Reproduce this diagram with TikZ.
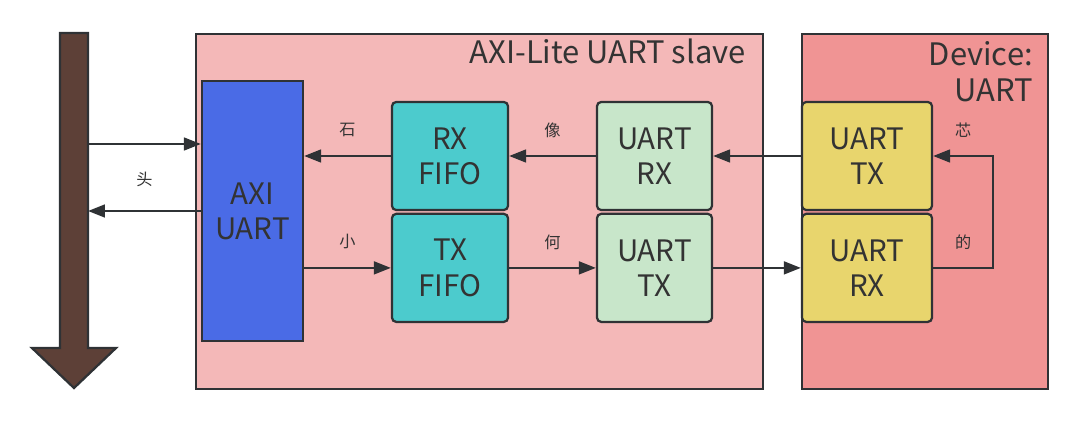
\documentclass[tikz,border=0pt]{standalone}
\usepackage{fontspec}
\setmainfont{Noto Sans CJK SC}
\usetikzlibrary{positioning,arrows.meta}

\definecolor{busbrown}{HTML}{5D4037}
\definecolor{slavepink}{HTML}{F4B8B8}
\definecolor{devred}{HTML}{F09494}
\definecolor{axiblue}{HTML}{4A6BE6}
\definecolor{fifoteal}{HTML}{4CCBCD}
\definecolor{uartgreen}{HTML}{C8E6CA}
\definecolor{devyellow}{HTML}{E8D56D}
\definecolor{linegray}{HTML}{2F3235}
\definecolor{textgray}{HTML}{333333}

\tikzset{
  block/.style={draw=linegray, line width=1.6pt, rounded corners=3pt, align=center,
    text=textgray, font=\fontsize{21}{25}\selectfont, inner sep=0pt},
  frame/.style={draw=linegray, line width=1.6pt, anchor=north west, inner sep=0pt},
  title/.style={text=textgray, font=\fontsize{22}{25.6}\selectfont, inner sep=0pt, align=right},
  link/.style={draw=linegray, line width=1.7pt, -{Triangle[length=12pt,width=9pt]}},
  tag/.style={text=textgray, font=\fontsize{11.5}{13}\selectfont}
}

\begin{document}
\begin{tikzpicture}[x=0.025cm, y=-0.025cm]
    \useasboundingbox (0,0) rectangle (1080,423);

    % Bus
    \draw[fill=busbrown, draw=linegray, line width=1.6pt]
        (60,33) -- (88,33) -- (88,348) -- (116,348) -- (74,388) -- (32,348) -- (60,348) -- cycle;
    \coordinate (busin) at (88,144);
    \coordinate (busout) at (88,211);

    % Containers
    \node[frame, fill=slavepink, minimum width=14.175cm, minimum height=8.875cm] (slave) at (195,33) {};
    \node[frame, fill=devred, minimum width=6.15cm, minimum height=8.875cm] (device) at (801,33) {};
    \node[title, anchor=base east] (slavetitle) at (746,63) {AXI-Lite UART slave};
    \node[title, anchor=north east] (devtitle) at (1033,41) {Device:\\UART};

    % Nodes
    \node[block, fill=axiblue, rounded corners=0pt, minimum width=2.525cm, minimum height=6.5cm] (axi) at (252.5,211) {AXI\\UART};
    \node[block, fill=fifoteal, minimum width=2.9cm, minimum height=2.7cm] (rxfifo) at (450,156) {RX\\FIFO};
    \node[block, fill=fifoteal, minimum width=2.9cm, minimum height=2.7cm, below=0.04cm of rxfifo] (txfifo) {TX\\FIFO};
    \node[block, fill=uartgreen, minimum width=2.875cm, minimum height=2.7cm] (uartrx) at (654.5,156) {UART\\RX};
    \node[block, fill=uartgreen, minimum width=2.875cm, minimum height=2.7cm, below=0.04cm of uartrx] (uarttx) {UART\\TX};
    \node[block, fill=devyellow, minimum width=3.25cm, minimum height=2.7cm] (devtx) at (867,156) {UART\\TX};
    \node[block, fill=devyellow, minimum width=3.25cm, minimum height=2.7cm, below=0.04cm of devtx] (devrx) {UART\\RX};

    % Arrows
    \draw[link] (busin) -- (busin -| axi.west);
    \draw[link] (axi.west |- busout) -- node[tag, yshift=0.8cm] {头} (busout);
    \draw[link] (rxfifo.west) -- node[tag, yshift=0.65cm] {石} (rxfifo.west -| axi.east);
    \draw[link] (axi.east |- txfifo.west) -- node[tag, yshift=0.65cm] {小} (txfifo.west);
    \draw[link] (uartrx.west) -- node[tag, yshift=0.65cm] {像} (rxfifo.east);
    \draw[link] (txfifo.east) -- node[tag, yshift=0.65cm] {何} (uarttx.west);
    \draw[link] (devtx.west) -- (uartrx.east);
    \draw[link] (uarttx.east) -- (devrx.west);
    \draw[link] (devrx.east) -- node[tag, yshift=0.65cm] {的} ++(60,0)
        |- node[tag, pos=0.75, yshift=0.65cm] {芯} (devtx.east);
\end{tikzpicture}
\end{document}
